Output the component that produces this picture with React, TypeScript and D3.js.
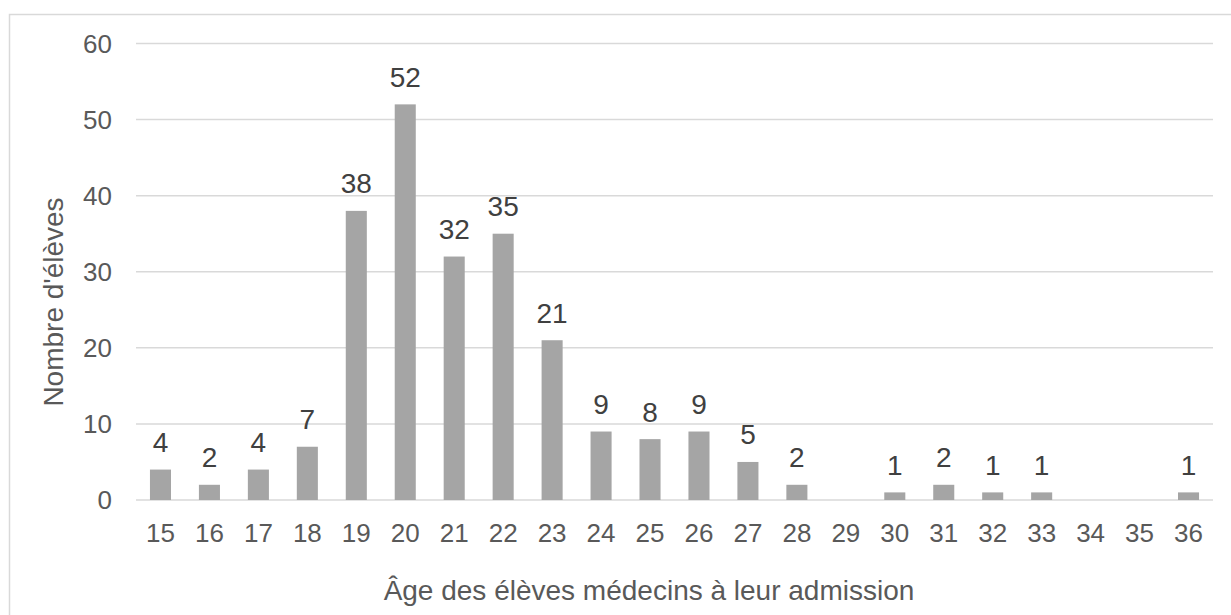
import * as d3 from "d3";
import { useEffect, useRef } from "react";

const ages = ["15", "16", "17", "18", "19", "20", "21", "22", "23", "24", "25", "26", "27", "28", "29", "30", "31", "32", "33", "34", "35", "36"];
const counts = [4, 2, 4, 7, 38, 52, 32, 35, 21, 9, 8, 9, 5, 2, 0, 1, 2, 1, 1, 0, 0, 1];
const yTicks = [0, 10, 20, 30, 40, 50, 60];

export default function App() {
  const svgRef = useRef<SVGSVGElement | null>(null);

  useEffect(() => {
    const svg = d3.select(svgRef.current);
    const width = 1231;
    const height = 615;
    const margin = { top: 43.5, right: 18, bottom: 115, left: 136 };
    const font = "'Liberation Sans', Arial, sans-serif";
    const textColor = "#595959";

    svg.selectAll("*").remove();
    svg.attr("width", width).attr("height", height);

    // chart frame (runs off the right and bottom edges)
    svg
      .append("rect")
      .attr("x", 9.5)
      .attr("y", 14.5)
      .attr("width", width + 20)
      .attr("height", height + 20)
      .attr("fill", "#fff")
      .attr("stroke", "#d9d9d9")
      .attr("stroke-width", 1.5);

    const x = d3
      .scaleBand()
      .domain(ages)
      .range([margin.left, width - margin.right])
      .paddingInner(0.57)
      .paddingOuter(0.285);

    const y = d3
      .scaleLinear()
      .domain([0, 60])
      .range([height - margin.bottom, margin.top]);

    svg
      .selectAll(".grid")
      .data(yTicks)
      .enter()
      .append("line")
      .attr("x1", margin.left)
      .attr("x2", width - margin.right)
      .attr("y1", (d) => y(d))
      .attr("y2", (d) => y(d))
      .attr("stroke", "#d9d9d9")
      .attr("stroke-width", 1.5);

    svg
      .selectAll(".ytick")
      .data(yTicks)
      .enter()
      .append("text")
      .attr("x", 112)
      .attr("y", (d) => y(d))
      .attr("dy", "0.36em")
      .attr("text-anchor", "end")
      .attr("font-family", font)
      .attr("font-size", "26px")
      .attr("fill", textColor)
      .text((d) => d);

    svg
      .selectAll(".bar")
      .data(counts)
      .enter()
      .append("rect")
      .attr("x", (_, i) => x(ages[i])!)
      .attr("width", x.bandwidth())
      .attr("y", (d) => y(d))
      .attr("height", (d) => y(0) - y(d))
      .attr("fill", "#a5a5a5");

    svg
      .selectAll(".label")
      .data(counts)
      .enter()
      .append("text")
      .attr("x", (_, i) => x(ages[i])! + x.bandwidth() / 2)
      .attr("y", (d) => y(d) - 17.5)
      .attr("text-anchor", "middle")
      .attr("font-family", font)
      .attr("font-size", "28px")
      .attr("fill", "#404040")
      .text((d) => (d > 0 ? d : ""));

    svg
      .selectAll(".xtick")
      .data(ages)
      .enter()
      .append("text")
      .attr("x", (d) => x(d)! + x.bandwidth() / 2)
      .attr("y", 541.5)
      .attr("text-anchor", "middle")
      .attr("font-family", font)
      .attr("font-size", "26px")
      .attr("fill", textColor)
      .text((d) => d);

    svg
      .append("text")
      .attr("x", 649)
      .attr("y", 600)
      .attr("text-anchor", "middle")
      .attr("font-family", font)
      .attr("font-size", "28px")
      .attr("fill", textColor)
      .text("Âge des élèves médecins à leur admission");

    svg
      .append("text")
      .attr("transform", "translate(63, 302) rotate(-90)")
      .attr("text-anchor", "middle")
      .attr("font-family", font)
      .attr("font-size", "28px")
      .attr("fill", textColor)
      .text("Nombre d'élèves");
  }, []);

  return (
    <svg
      ref={svgRef}
      style={{ position: "absolute", left: 0, top: 0, display: "block" }}
    ></svg>
  );
}
